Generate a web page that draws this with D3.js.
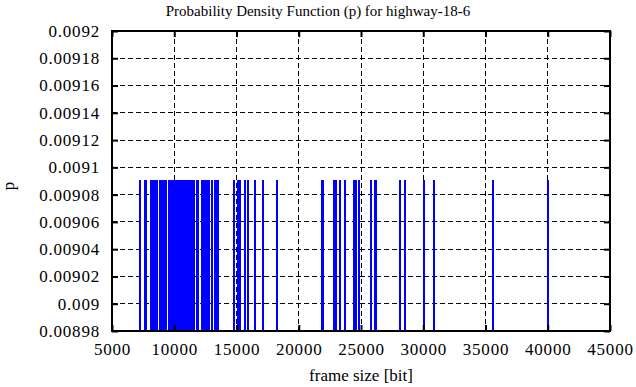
<!DOCTYPE html>
<html>
<head>
<meta charset="utf-8">
<script src="https://cdn.jsdelivr.net/npm/d3@7"></script>
<style>
  body { margin: 0; background: #fff; }
  svg text { font-family: "Liberation Serif", "Times New Roman", serif; fill: #000; }
</style>
</head>
<body>
<script>
// frame sizes [bit] present in the trace, each with the same probability
const frameSizes = [
  7209, 7670, 7760,
  8130, 8210, 8290, 8370, 8450, 8530, 8590,
  8855, 8935, 9015, 9095, 9175, 9255, 9313,
  9578, 9660, 9740, 9820, 9900, 9980, 10060, 10140, 10220, 10300,
  10380, 10460, 10540, 10620, 10700, 10780, 10860, 10940, 11020,
  11100, 11180, 11260, 11340, 11420, 11500, 11586,
  11850, 11930,
  12230, 12310, 12390, 12470, 12550, 12630, 12710, 12767,
  13032, 13300, 13390, 13490,
  14800, 15160, 15320, 15680, 15910, 16490, 17130, 18250,
  21830, 21950, 22830, 22990, 23310, 23710, 24470, 24560, 24840,
  25800, 26100, 26200, 28130, 28530, 30060, 30860, 35600, 40020
]
const probability = 0.0090909

const xTicks = [5000, 10000, 15000, 20000, 25000, 30000, 35000, 40000, 45000]
const yTicks = [0.00898, 0.009, 0.00902, 0.00904, 0.00906, 0.00908,
  0.0091, 0.00912, 0.00914, 0.00916, 0.00918, 0.0092]

const width = 636
const height = 387
const margin = { left: 112, top: 31, right: 26, bottom: 56 }
const innerWidth = width - margin.left - margin.right
const innerHeight = height - margin.top - margin.bottom

const svg = d3.select('body').append('svg')
  .attr('width', width)
  .attr('height', height)

const g = svg.append('g')
  .attr('transform', `translate(${margin.left},${margin.top})`)

const xScale = d3.scaleLinear().domain([5000, 45000]).range([0, innerWidth])
const yScale = d3.scaleLinear().domain([0.00898, 0.0092]).range([innerHeight, 0])

// grid
g.append('g').selectAll('line').data(xTicks.slice(1, -1)).join('line')
  .attr('x1', d => xScale(d)).attr('x2', d => xScale(d))
  .attr('y1', 0).attr('y2', innerHeight)
  .attr('stroke', '#000').attr('stroke-width', 1)
  .attr('stroke-dasharray', '5,3')
  .attr('shape-rendering', 'crispEdges')

g.append('g').selectAll('line').data(yTicks.slice(1, -1)).join('line')
  .attr('x1', 0).attr('x2', innerWidth)
  .attr('y1', d => yScale(d)).attr('y2', d => yScale(d))
  .attr('stroke', '#000').attr('stroke-width', 1)
  .attr('stroke-dasharray', '5,3')
  .attr('shape-rendering', 'crispEdges')

// impulses
g.append('g').selectAll('line').data(frameSizes).join('line')
  .attr('x1', d => xScale(d)).attr('x2', d => xScale(d))
  .attr('y1', yScale(0.00898)).attr('y2', yScale(probability))
  .attr('stroke', '#0000ff').attr('stroke-width', 2)
  .attr('shape-rendering', 'crispEdges')

// axes with inward ticks
const fmt = d => String(+d.toPrecision(6))
const styleAxis = sel => {
  sel.attr('font-family', '"Liberation Serif", serif').attr('font-size', 17)
  sel.select('.domain').remove()
  sel.selectAll('line').attr('stroke', '#000').attr('stroke-width', 2)
  sel.selectAll('text').attr('letter-spacing', '0.8')
}
// mirror axes carry only tick marks
const ticksOnly = sel => {
  styleAxis(sel)
  sel.selectAll('text').remove()
}

g.append('g')
  .attr('transform', `translate(0,${innerHeight})`)
  .call(d3.axisBottom(xScale).tickValues(xTicks).tickFormat(fmt)
    .tickSizeInner(-6).tickSizeOuter(0).tickPadding(12))
  .call(styleAxis)

g.append('g')
  .call(d3.axisTop(xScale).tickValues(xTicks)
    .tickSizeInner(-6).tickSizeOuter(0))
  .call(ticksOnly)

g.append('g')
  .call(d3.axisLeft(yScale).tickValues(yTicks).tickFormat(fmt)
    .tickSizeInner(-6).tickSizeOuter(0).tickPadding(12))
  .call(styleAxis)

g.append('g')
  .attr('transform', `translate(${innerWidth},0)`)
  .call(d3.axisRight(yScale).tickValues(yTicks)
    .tickSizeInner(-6).tickSizeOuter(0))
  .call(ticksOnly)

// frame
g.append('rect')
  .attr('width', innerWidth).attr('height', innerHeight)
  .attr('fill', 'none').attr('stroke', '#000').attr('stroke-width', 2)

// labels
svg.append('text')
  .attr('x', width / 2).attr('y', 16)
  .attr('text-anchor', 'middle')
  .style('font-size', '15px')
  .text('Probability Density Function (p) for highway-18-6')

svg.append('text')
  .attr('x', margin.left + innerWidth / 2).attr('y', 381)
  .attr('text-anchor', 'middle')
  .style('font-size', '17px')
  .text('frame size [bit]')

svg.append('text')
  .attr('transform', 'translate(14,186) rotate(-90)')
  .attr('text-anchor', 'middle')
  .style('font-size', '17px')
  .text('p')
</script>
</body>
</html>
